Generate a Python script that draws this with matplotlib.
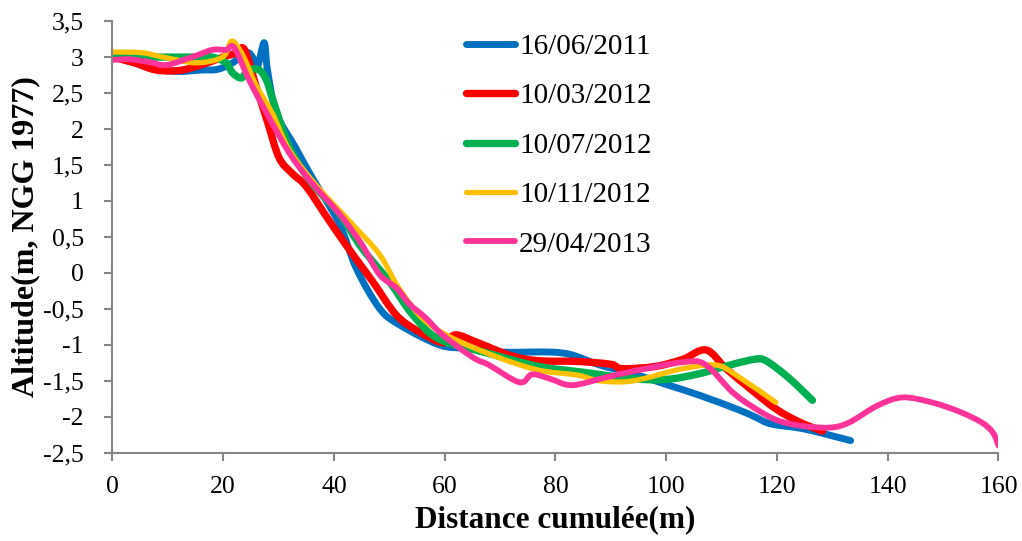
import numpy as np
import matplotlib.pyplot as plt
from matplotlib.path import Path
from matplotlib.patches import PathPatch
from matplotlib.lines import Line2D
from matplotlib.ticker import FuncFormatter, MultipleLocator

plt.rcParams['font.family'] = ['Liberation Serif', 'DejaVu Serif']

# profiles (distance m, altitude m NGG 1977)
labels = ['16/06/2011', '10/03/2012', '10/07/2012', '10/11/2012', '29/04/2013']
colors = ['#0070C0', '#FF0000', '#00B050', '#FFC000', '#FF3399']
widths = [5.0, 5.3, 5.3, 3.8, 4.2]

x_2011_06 = [0, 4, 8, 12, 16, 19, 21.7, 24.2, 25.3, 26.2, 27.4, 28, 29.6, 33, 36.1, 41, 44,
             48.2, 51.8, 59, 64, 70, 79, 83, 88, 94, 100, 106, 113, 116, 119, 125, 133.3]
y_2011_06 = [3.0, 2.92, 2.83, 2.8, 2.82, 2.83, 2.92, 3.06, 3.0, 2.87, 3.2, 2.82, 2.22, 1.75, 1.32,
             0.68, 0.07, -0.49, -0.72, -1.0, -1.05, -1.1, -1.1, -1.14, -1.28, -1.4, -1.55, -1.7,
             -1.9, -2.0, -2.1, -2.17, -2.33]

x_2012_03 = [0, 4, 7.9, 12.6, 17.5, 20, 22.4, 23.5, 24.4, 26, 28, 30.1, 32.5, 35, 39.2, 43, 47,
             51.2, 55, 59.6, 62, 66, 72, 77, 84, 90, 92, 98, 103, 107.2, 110.8, 115, 119.8, 124, 128.2]
y_2012_03 = [3.0, 2.92, 2.82, 2.82, 2.93, 3.0, 3.06, 3.13, 3.0, 2.58, 2.1, 1.6, 1.38, 1.2, 0.72,
             0.3, -0.12, -0.58, -0.8, -0.97, -0.86, -0.97, -1.15, -1.22, -1.23, -1.27, -1.33, -1.3,
             -1.2, -1.07, -1.33, -1.6, -1.89, -2.07, -2.2]

x_2012_07 = [0, 5, 9.7, 15, 18, 20.5, 21.7, 23.3, 24.5, 26.5, 27.8, 29, 32, 36, 41, 45, 50, 54.2,
             59, 68, 77, 85, 94, 100, 106, 112, 116, 118, 122, 126.4]
y_2012_07 = [3.0, 3.0, 3.0, 3.0, 3.0, 2.92, 2.78, 2.71, 2.82, 2.82, 2.68, 2.4, 1.74, 1.25, 0.82,
             0.35, -0.12, -0.58, -0.92, -1.12, -1.3, -1.38, -1.47, -1.48, -1.4, -1.27, -1.2, -1.22,
             -1.45, -1.77]

x_2012_11 = [0, 5.4, 9.7, 15.2, 19.9, 21.5, 23, 24.2, 26, 29, 32, 37, 42.8, 48.2, 51.8, 56.7, 64,
             75.8, 84, 88, 94, 103, 109, 112.6, 119.8]
y_2012_11 = [3.07, 3.06, 2.99, 2.92, 3.0, 3.22, 3.1, 2.92, 2.6, 2.2, 1.7, 1.2, 0.72, 0.26, -0.22,
             -0.68, -1.0, -1.33, -1.42, -1.5, -1.5, -1.33, -1.28, -1.42, -1.8]

x_2013_04 = [0, 3, 6.7, 9.7, 14.4, 18, 20.5, 22, 24.7, 28, 32, 36, 41, 45, 48.2, 51.3, 53.6,
             56.5, 59.6, 65, 68, 73.5, 75.8, 79, 83, 89.2, 95, 103, 107, 112, 116, 119.8, 124,
             129.4, 133, 138, 142.6, 148, 153, 157, 159, 160]
y_2013_04 = [2.96, 2.97, 2.93, 2.89, 3.0, 3.1, 3.1, 3.13, 2.68, 2.2, 1.66, 1.25, 0.82, 0.4, -0.02,
             -0.21, -0.43, -0.62, -0.86, -1.17, -1.28, -1.52, -1.41, -1.47, -1.56, -1.45, -1.35,
             -1.24, -1.27, -1.66, -1.88, -2.04, -2.12, -2.15, -2.08, -1.85, -1.73, -1.8, -1.93,
             -2.08, -2.22, -2.4]

series = [(x_2011_06, y_2011_06), (x_2012_03, y_2012_03), (x_2012_07, y_2012_07),
          (x_2012_11, y_2012_11), (x_2013_04, y_2013_04)]


def smooth_path(xs, ys):
    # Excel-like smoothed line: Catmull-Rom segments drawn as cubic Bezier curves
    p = np.column_stack([xs, ys]).astype(float)
    ext = np.vstack([p[0], p, p[-1]])
    verts = [p[0]]
    codes = [Path.MOVETO]
    for i in range(len(p) - 1):
        p0, p1, p2, p3 = ext[i], ext[i + 1], ext[i + 2], ext[i + 3]
        verts += [p1 + (p2 - p0) / 6, p2 - (p3 - p1) / 6, p2]
        codes += [Path.CURVE4] * 3
    return Path(verts, codes)


fig, ax = plt.subplots(figsize=(10.22, 5.41), dpi=100)
fig.subplots_adjust(left=0.11, right=0.977, top=0.961, bottom=0.163)

handles = []
for (xs, ys), c, lw, lab in zip(series, colors, widths, labels):
    ax.add_patch(PathPatch(smooth_path(xs, ys), fill=False, edgecolor=c, lw=lw,
                           capstyle='round', joinstyle='round'))
    handles.append(Line2D([], [], color=c, lw=lw, solid_capstyle='round', label=lab))

ax.set_xlim(0, 160)
ax.set_ylim(-2.5, 3.5)
ax.xaxis.set_major_locator(MultipleLocator(20))
ax.yaxis.set_major_locator(MultipleLocator(0.5))
ax.yaxis.set_major_formatter(FuncFormatter(lambda v, _: ('%g' % v).replace('.', ',')))

for s in ['top', 'right']:
    ax.spines[s].set_visible(False)
for s in ['left', 'bottom']:
    ax.spines[s].set_color('#868686')
    ax.spines[s].set_linewidth(1.5)
ax.tick_params(axis='both', colors='#868686', labelcolor='black', labelsize=18.5,
               length=6, width=1.5)
ax.tick_params(axis='x', pad=11)
ax.tick_params(axis='y', pad=14.5)

ax.set_xlabel('Distance cumulée(m)', fontsize=22.5, fontweight='bold', labelpad=5)
ax.set_ylabel('Altitude(m, NGG 1977)', fontsize=23, fontweight='bold')
ax.yaxis.set_label_coords(-0.081, 0.5)

ax.legend(handles=handles, loc='upper left', bbox_to_anchor=(0.379, 1.012), frameon=False,
          fontsize=21, handlelength=1.68, handletextpad=0.15, labelspacing=0.79,
          borderaxespad=0.2)

fig.savefig('out.png', dpi=100)
